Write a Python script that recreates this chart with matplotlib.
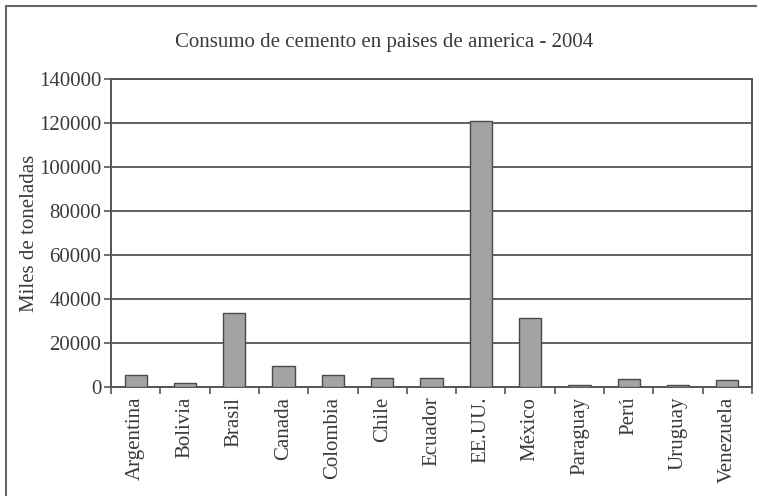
import matplotlib
matplotlib.use("Agg")
import matplotlib.pyplot as plt
from matplotlib.patches import Rectangle
import numpy as np

paises = ["Argentina", "Bolivia", "Brasil", "Canada", "Colombia", "Chile", "Ecuador",
          "EE.UU.", "México", "Paraguay", "Perú", "Uruguay", "Venezuela"]
consumo = [5500, 1800, 33600, 9500, 5500, 4100, 4100,
           120900, 31400, 900, 3600, 800, 3200]
yticks = [0, 20000, 40000, 60000, 80000, 100000, 120000, 140000]

plt.rcParams['font.family'] = ['Liberation Serif', 'DejaVu Serif']
txt = '#3a3a3a'
line = '#555555'

fig = plt.figure(figsize=(7.57, 4.96), dpi=100)
fig.patch.set_facecolor('white')
ax = fig.add_axes([111/757, 1-387/496, (752-111)/757, (387-79)/496])

x = np.arange(len(paises))
ax.bar(x, consumo, width=0.45, color='#a3a3a3', edgecolor='#4a4a4a', linewidth=1.0, zorder=3)

ax.set_ylim(0, 140000)
ax.set_xlim(-0.5, len(paises)-0.5)
ax.set_yticks(yticks)
ax.set_yticklabels([str(v) for v in yticks], fontsize=15, color=txt)
ax.yaxis.grid(True, color=line, linewidth=1.3, zorder=0)
ax.set_axisbelow(True)

# category ticks between bars, labels centered on bars
ax.set_xticks(np.arange(-0.5, len(paises), 1.0))
ax.set_xticklabels([])
ax.set_xticks(x, minor=True)
ax.set_xticklabels(paises, minor=True, rotation=90, fontsize=15, color=txt)
ax.tick_params(axis='x', which='minor', length=0, pad=7)
ax.tick_params(axis='x', which='major', length=5, width=1.2, color=line, direction='out')
ax.tick_params(axis='y', length=5, width=1.2, color=line, pad=2)

for s in ax.spines.values():
    s.set_color(line)
    s.set_linewidth(1.4)

ax.set_ylabel("Miles de toneladas", fontsize=15, color=txt, labelpad=0)
fig.text(384/757, 1-42/496, "Consumo de cemento en paises de america - 2004",
         ha='center', va='center', fontsize=15, color=txt)

# outer frame of the scanned figure
fig.patches.append(Rectangle((6/757, -0.1), 1.2, 1-6/496+0.1, transform=fig.transFigure,
                             fill=False, edgecolor='#666666', linewidth=1.5))

fig.savefig("out.png", dpi=100)
